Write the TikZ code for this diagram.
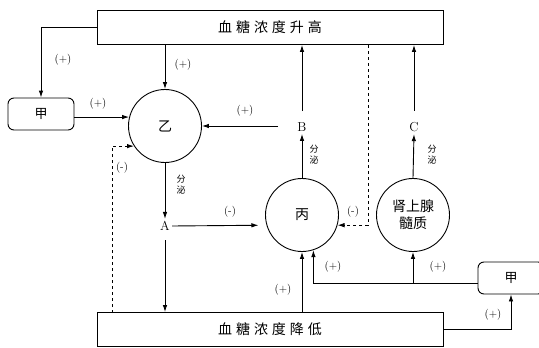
\documentclass[tikz,border=0pt]{standalone}
\usepackage{fontspec}
\newfontfamily\cjk{Noto Sans CJK SC}
\newfontfamily\cjkwide{Noto Sans CJK SC}[LetterSpace=28]
\usetikzlibrary{arrows.meta}
\begin{document}
\begin{tikzpicture}[x=1pt,y=-1pt,line width=0.9pt,>={Latex[length=7pt,width=4.5pt]},
  bar/.style={draw,minimum width=346pt,minimum height=34pt,inner sep=0pt,font=\cjkwide\fontsize{14}{14}\selectfont},
  organ/.style={draw,circle,minimum size=73pt,inner sep=0pt,align=center,font=\cjk\fontsize{14}{17}\selectfont},
  jia/.style={draw,rounded corners=6pt,minimum width=66pt,minimum height=32pt,font=\cjk\fontsize{13}{13}\selectfont},
  hormone/.style={inner sep=2pt,font=\fontsize{13}{13}\selectfont},
  sign/.style={font=\fontsize{11}{11}\selectfont},
  secrete/.style={align=center,font=\cjk\fontsize{9}{11}\selectfont}]
\clip (0,0) rectangle (539,348);

\node[bar] (high) at (270,27.5) {血糖浓度升高};
\node[bar] (low) at (270,329.5) {血糖浓度降低};
\node[jia] (jiaL) at (41,114) {甲};
\node[jia] (jiaR) at (511,278) {甲};
\node[organ] (yi) at (165,126) {乙};
\node[organ] (bing) at (302,215) {丙};
\node[organ] (sxs) at (413,215) {肾上腺\\髓质};
\node[hormone] (A) at (165,226) {A};
\node[hormone] (B) at (302,127) {B};
\node[hormone] (C) at (414,127) {C};

\coordinate (toYi) at (278,126);
\coordinate (dashL) at (112,313);
\coordinate (dashR) at (368,45);
\coordinate (busR) at ([yshift=-5pt]jiaR.west);

\draw[->] (high.west) -| (jiaL.north);
\draw[->] (yi.north |- high.south) -- (yi.north);
\draw[->] (jiaL.east |- yi.166) -- (yi.166);
\draw[->] (toYi) -- (yi.east);
\draw[dashed,->] (dashL) |- (yi.213);
\draw[->] (yi.south) -- (A.north);
\draw[->,shorten >=8pt] (A.east) -- (bing.196);
\draw[->,shorten <=7pt] (A.south) -- (A.south |- low.north);
\draw[->] (bing.north) -- (B.south);
\draw[->,shorten <=9pt] (B.north) -- (B.north |- high.south);
\draw[->] (sxs.north) -- (C.south);
\draw[->,shorten <=9pt] (C.north) -- (C.north |- high.south);
\draw[dashed,->] (dashR) |- (bing.344);
\draw[->] (low.north -| bing.south) -- (bing.south);
\draw[->] (busR) -| (bing.288);
\draw[->] (sxs.south |- busR) -- (sxs.south);
\draw[->] (low.east) -| (jiaR.south);

\node[sign] (p1) at (63,60) {(+)};
\node[sign] (p2) at (183,65) {(+)};
\node[sign] (p3) at (98,104) {(+)};
\node[sign] (p4) at (245,111) {(+)};
\node[sign] (m1) at (122,168) {(-)};
\node[sign] (m2) at (230,212) {(-)};
\node[sign] (m3) at (353,212) {(-)};
\node[sign] (p5) at (283,290) {(+)};
\node[sign] (p6) at (333,267) {(+)};
\node[sign] (p7) at (438,267) {(+)};
\node[sign] (p8) at (493,315) {(+)};

\node[secrete] (fA) at (181,185) {分\\泌};
\node[secrete] (fB) at (314,155) {分\\泌};
\node[secrete] (fC) at (432,155) {分\\泌};
\end{tikzpicture}
\end{document}
